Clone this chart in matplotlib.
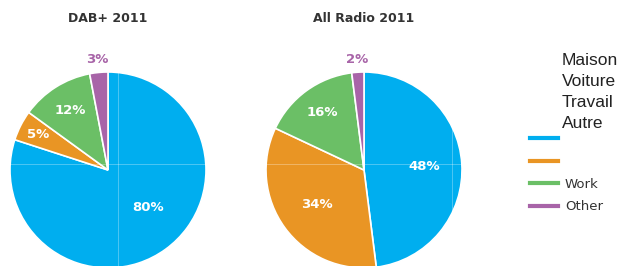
import matplotlib
matplotlib.use("Agg")
import matplotlib.pyplot as plt
from matplotlib.lines import Line2D
import numpy as np

# data
categories = ["Home", "Car", "Work", "Other"]
legend_labels = ["", "", "Work", "Other"]
overlay_labels = ["Maison", "Voiture", "Travail", "Autre"]
titles = ["DAB+ 2011", "All Radio 2011"]
dab_2011 = [80, 5, 12, 3]
all_radio_2011 = [48, 34, 16, 2]
colors = ["#00AEEF", "#E99524", "#6BBF66", "#A864A8"]

W, H = 624, 266
fig = plt.figure(figsize=(W / 100, H / 100), dpi=100)

# pie centre (px) and radius
centres = [(108, 170), (364, 170)]
R = 98
label_r = [[0.56, 0.8, 0.72, 1.13], [0.62, 0.6, 0.72, 1.13]]
label_shift = [[11, 0, 0, 0], [0, 0, 0, 0]]   # degrees
cross_x = [0.1, 0.9]

for i, (vals, title, (cx, cy)) in enumerate(zip([dab_2011, all_radio_2011], titles, centres)):
    ax = fig.add_axes([(cx - R) / W, (H - cy - R) / H, 2 * R / W, 2 * R / H])
    wedges, _ = ax.pie(vals, colors=colors, startangle=90, counterclock=False,
                       wedgeprops=dict(edgecolor="white", linewidth=1.2))
    ax.set_xlim(-1, 1)
    ax.set_ylim(-1, 1)
    ax.set_aspect("equal")
    ax.axis("off")
    # faint crosshair seen in the original
    ax.axhline(0.06, color="white", lw=0.6, alpha=0.35)
    ax.axvline(cross_x[i], color="white", lw=0.6, alpha=0.35)
    for w, v, r, s, c in zip(wedges, vals, label_r[i], label_shift[i], colors):
        ang = np.deg2rad((w.theta1 + w.theta2) / 2 + s)
        outside = r > 1
        ax.text(r * np.cos(ang), r * np.sin(ang), f"{v}%",
                ha="center", va="center", fontsize=9.5, fontweight="bold",
                color=c if outside else "white", clip_on=False)
    fig.text(cx / W, 1 - 18 / H, title, ha="center", va="center",
             fontsize=9, fontweight="bold", color="#333333")

handles = [Line2D([0], [0], color=c, lw=3) for c in colors]
leg = fig.legend(handles, legend_labels, loc="upper left",
                 bbox_to_anchor=(530 / W, 1 - 133 / H), frameon=False,
                 fontsize=9.5, handlelength=2.1, handletextpad=0.55,
                 labelspacing=0.72, borderpad=0, borderaxespad=0)
for t in leg.get_texts():
    t.set_color("#333333")

fig.text(562 / W, 1 - 53 / H, "\n".join(overlay_labels), ha="left", va="top",
         fontsize=12.5, family="Liberation Sans", color="#222222", linespacing=1.5)

fig.savefig("out.png", dpi=100, facecolor="white")
